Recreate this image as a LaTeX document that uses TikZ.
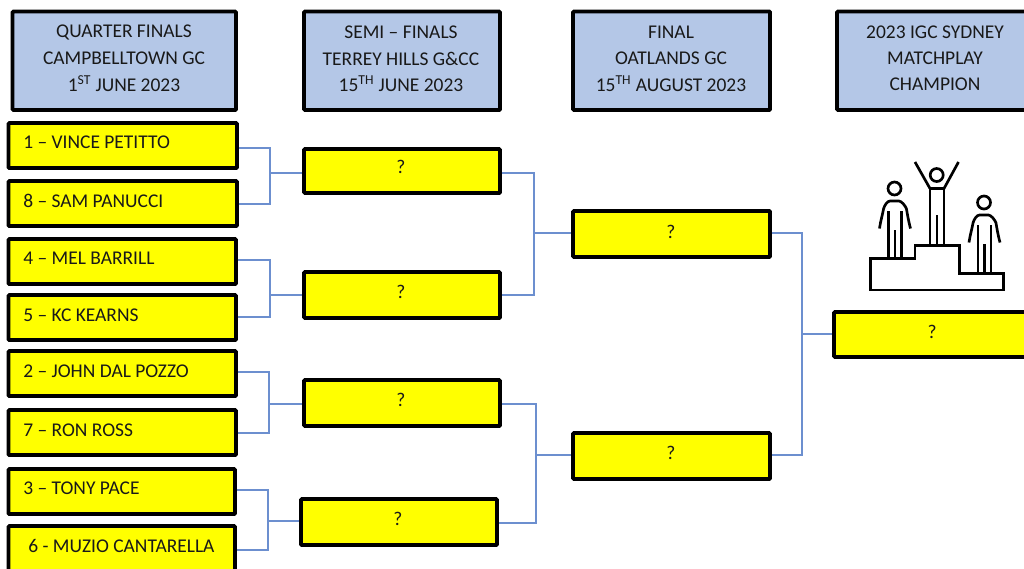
\documentclass[tikz,border=0pt]{standalone}
\usepackage{fontspec}
\setmainfont{Carlito}
\newcommand{\txtsize}{\fontsize{14.6}{16}\selectfont}
\definecolor{headblue}{HTML}{B4C7E7}
\definecolor{connblue}{HTML}{6C8FCF}
\definecolor{byellow}{RGB}{255,255,0}
\newcommand{\person}[2]{%
  \begin{scope}[shift={(#1,#2)}]
    \draw[icon] (0,-18.5) circle (6.5);
    \draw[icon] (-15,21.5) .. controls (-14,14) and (-12,8) .. (-11,2) .. controls (-10,-2) and (-7,-6) .. (-4.5,-6) -- (4.5,-6) .. controls (7,-6) and (11,-1) .. (12,2) .. controls (13,8) and (14,14) .. (16,21.5);
    \draw[icon] (-6,4) -- (-6,51.3) (7,4) -- (7,51.3) (0.5,23) -- (0.5,51.3);
  \end{scope}}
\tikzset{
  x=0.75pt,y=-0.75pt,
  boxbase/.style={draw=black,line width=2.7pt,rounded corners=0.6pt,inner sep=0pt,font=\txtsize,text=black!85},
  headbox/.style={boxbase,fill=headblue,align=center},
  ybox/.style={boxbase,fill=byellow},
  lbl/.style={font=\txtsize,text=black!90,inner sep=0pt,anchor=west},
  qlbl/.style={font=\txtsize,text=black!90,inner sep=0pt},
  conn/.style={draw=connblue,line width=0.85pt},
  icon/.style={draw=black,line width=2pt,fill=none,line join=miter},
}
\newcommand{\bx}[7]{\node[#1,minimum width=#5*0.75pt-#4*0.75pt,minimum height=#7*0.75pt-#6*0.75pt] (#2) at ({(#4+#5)/2},{(#6+#7)/2}) {#3};}
\begin{document}
\begin{tikzpicture}
\useasboundingbox (0,0) rectangle (1024,568);
\clip (0,0) rectangle (1024,568);
% joints
\coordinate (j1) at (270,173);
\coordinate (j2) at (270,295);
\coordinate (j3) at (269,404);
\coordinate (j4) at (268,521);
\coordinate (j5) at (534,233);
\coordinate (j6) at (536,455);
\coordinate (j7) at (802,334);
% headers
\bx{headbox}{h1}{}{12.5}{236}{11.5}{110}
\bx{headbox}{h2}{}{304}{500}{11.5}{110}
\bx{headbox}{h3}{}{573}{770}{11.5}{110}
\bx{headbox}{h4}{}{837}{1031}{11.5}{110}
\node[qlbl] (h1a) at (124,32) {QUARTER FINALS};
\node[qlbl] (h1b) at (124,58.5) {CAMPBELLTOWN GC};
\node[qlbl] (h1c) at (124,84) {1\textsuperscript{ST} JUNE 2023};
\node[qlbl] (h2a) at (401,32) {SEMI – FINALS};
\node[qlbl] (h2b) at (401,58.5) {TERREY HILLS G\&CC};
\node[qlbl] (h2c) at (401,84) {15\textsuperscript{TH} JUNE 2023};
\node[qlbl] (h3a) at (671,32) {FINAL};
\node[qlbl] (h3b) at (671,58.5) {OATLANDS GC};
\node[qlbl] (h3c) at (671,84) {15\textsuperscript{TH} AUGUST 2023};
\node[qlbl] (h4a) at (935,32) {2023 IGC SYDNEY};
\node[qlbl] (h4b) at (935,58.5) {MATCHPLAY};
\node[qlbl] (h4c) at (935,84) {CHAMPION};
% players
\bx{ybox}{p1}{}{8.5}{237}{123}{168}
\bx{ybox}{p2}{}{8.5}{237}{181}{226}
\bx{ybox}{p3}{}{8.5}{236}{239}{284}
\bx{ybox}{p4}{}{8.5}{236}{295}{340}
\bx{ybox}{p5}{}{8.5}{236}{351}{396}
\bx{ybox}{p6}{}{8.5}{236}{410}{455}
\bx{ybox}{p7}{}{8.5}{235}{469}{514}
\bx{ybox}{p8}{}{8.5}{235}{526}{580}
\node[lbl] (t1) at (23,142.5) {1 – VINCE PETITTO};
\node[lbl] (t2) at (23,200.5) {8 – SAM PANUCCI};
\node[lbl] (t3) at (23,258.5) {4 – MEL BARRILL};
\node[lbl] (t4) at (23,315) {5 – KC KEARNS};
\node[lbl] (t5) at (23,371) {2 – JOHN DAL POZZO};
\node[lbl] (t6) at (23,430) {7 – RON ROSS};
\node[lbl] (t7) at (23,488.5) {3 – TONY PACE};
\node[lbl] (t8) at (28,546) {6 - MUZIO CANTARELLA};
% semis
\bx{ybox}{s1}{}{304}{500}{149}{193}
\bx{ybox}{s2}{}{304}{500}{272}{318}
\bx{ybox}{s3}{}{304}{500}{380}{426}
\bx{ybox}{s4}{}{301}{497}{499}{545}
\node[qlbl] (q1) at (401,167) {?};
\node[qlbl] (q2) at (401,292) {?};
\node[qlbl] (q3) at (401,400) {?};
\node[qlbl] (q4) at (398,519) {?};
% finals
\bx{ybox}{f1}{}{573}{770}{211}{257}
\bx{ybox}{f2}{}{573}{770}{433}{479}
\node[qlbl] (q5) at (671,232) {?};
\node[qlbl] (q6) at (671,453) {?};
% champion
\bx{ybox}{c1}{}{834}{1031}{312}{357}
\node[qlbl] (q7) at (932,332) {?};
% connectors
\draw[conn] (p1.east |- 0,148) -| (j1) |- (p2.east |- 0,204);
\draw[conn] (j1) -- (j1 -| s1.west);
\draw[conn] (p3.east |- 0,260) -| (j2) |- (p4.east |- 0,317);
\draw[conn] (j2) -- (j2 -| s2.west);
\draw[conn] (p5.east |- 0,372) -| (j3) |- (p6.east |- 0,433);
\draw[conn] (j3) -- (j3 -| s3.west);
\draw[conn] (p7.east |- 0,490) -| (j4) |- (p8.east |- 0,550);
\draw[conn] (j4) -- (j4 -| s4.west);
\draw[conn] (s1.east |- 0,173) -| (j5) |- (s2.east |- 0,295);
\draw[conn] (j5) -- (j5 -| f1.west);
\draw[conn] (s3.east |- 0,404) -| (j6) |- (s4.east |- 0,523);
\draw[conn] (j6) -- (j6 -| f2.west);
\draw[conn] (f1.east |- 0,233) -| (j7) |- (f2.east |- 0,455);
\draw[conn] (j7) -- (j7 -| c1.west);
% podium icon
\draw[icon] (870.7,258.3) -- (915,258.3) -- (915,245.7) -- (959.3,245.7) -- (959.3,273.3) -- (1003.3,273.3) -- (1003.3,290) -- (870.7,290) -- cycle;
\person{894.5}{207}
\person{984}{221}
\draw[icon] (936.7,175) circle (6.5);
\draw[icon] (915,162) -- (930,188.5) -- (944,188.5) -- (958.5,162);
\draw[icon] (930,188.5) -- (930,245.7) (944,188.5) -- (944,245.7) (937,215) -- (937,245.7);
\end{tikzpicture}
\end{document}
